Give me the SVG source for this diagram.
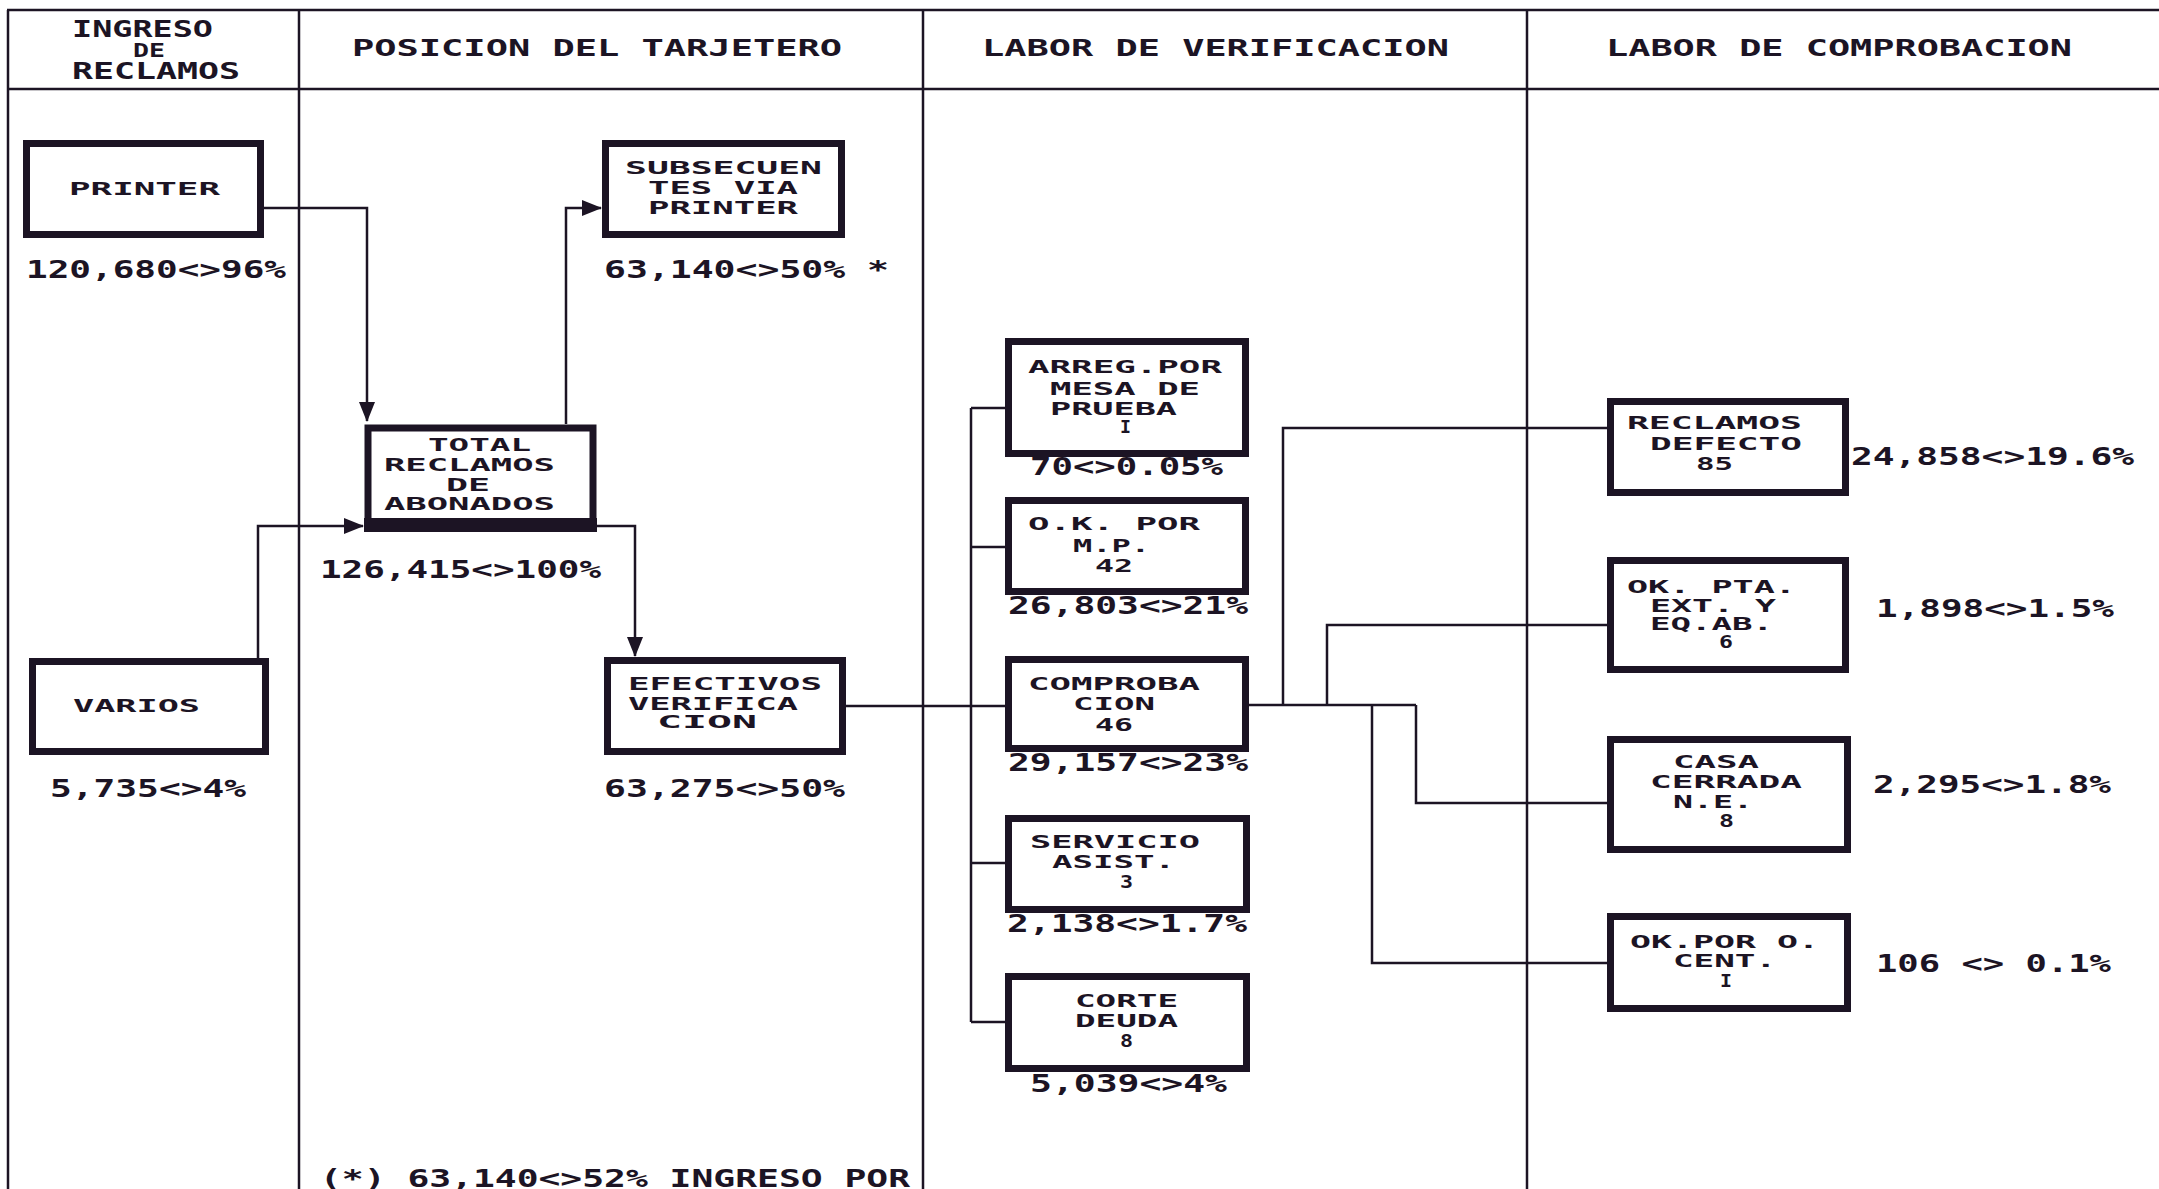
<svg xmlns="http://www.w3.org/2000/svg" width="2159" height="1189" viewBox="0 0 2159 1189">
<style>
.g{stroke:#1c1424;stroke-width:2.5;fill:none}
.c{stroke:#1c1424;stroke-width:2.5;fill:none}
.b{fill:#fff;stroke:#1c1424;stroke-width:7}
text{font-family:"DejaVu Sans Mono","Liberation Mono",monospace;font-weight:bold;fill:#1c1424}
.h{font-size:23px}
.t{font-size:18px}
.l{font-size:24px}
</style>
<defs>
<marker id="ah" markerUnits="userSpaceOnUse" markerWidth="20" markerHeight="16" refX="19" refY="8" orient="auto">
<path d="M0,0 L20,8 L0,16 Z" fill="#1c1424"/>
</marker>
</defs>
<rect width="2159" height="1189" fill="#fff"/>
<g id="grid">
<line class="g" x1="7" y1="10" x2="2159" y2="10"/>
<line class="g" x1="7" y1="89" x2="2159" y2="89"/>
<line class="g" x1="8" y1="10" x2="8" y2="1189"/>
<line class="g" x1="299" y1="10" x2="299" y2="1189"/>
<line class="g" x1="923" y1="10" x2="923" y2="1189"/>
<line class="g" x1="1527" y1="10" x2="1527" y2="1189"/>
</g>
<g id="headers">
<text class="h" x="72" y="37" textLength="141" lengthAdjust="spacingAndGlyphs">INGRESO</text>
<text x="133" y="57" font-size="20" textLength="32" lengthAdjust="spacingAndGlyphs">DE</text>
<text class="h" x="72" y="79" textLength="168" lengthAdjust="spacingAndGlyphs">RECLAMOS</text>
<text class="h" x="352" y="56" textLength="490" lengthAdjust="spacingAndGlyphs">POSICION DEL TARJETERO</text>
<text class="h" x="982" y="56" textLength="467" lengthAdjust="spacingAndGlyphs">LABOR DE VERIFICACION</text>
<text class="h" x="1606" y="56" textLength="466" lengthAdjust="spacingAndGlyphs">LABOR DE COMPROBACION</text>
</g>
<g id="connectors">
<polyline class="c" points="264,208 367,208 367,421" marker-end="url(#ah)"/>
<polyline class="c" points="258,658 258,526 363,526" marker-end="url(#ah)"/>
<polyline class="c" points="566,424 566,208 601,208" marker-end="url(#ah)"/>
<polyline class="c" points="597,526 635,526 635,656" marker-end="url(#ah)"/>
<line class="c" x1="846" y1="706" x2="1005" y2="706"/>
<line class="c" x1="971" y1="408" x2="971" y2="1022"/>
<line class="c" x1="971" y1="408" x2="1005" y2="408"/>
<line class="c" x1="971" y1="547" x2="1005" y2="547"/>
<line class="c" x1="971" y1="863" x2="1005" y2="863"/>
<line class="c" x1="971" y1="1022" x2="1005" y2="1022"/>
<line class="c" x1="1249" y1="705" x2="1416" y2="705"/>
<polyline class="c" points="1283,705 1283,428 1607,428"/>
<polyline class="c" points="1327,705 1327,625 1607,625"/>
<polyline class="c" points="1372,705 1372,963 1607,963"/>
<polyline class="c" points="1416,705 1416,803 1607,803"/>
</g>
<g id="n-printer">
<rect class="b" x="26.5" y="143.5" width="234" height="91"/>
<text class="t" x="69" y="195" textLength="151" lengthAdjust="spacingAndGlyphs">PRINTER</text>
<text class="l" x="26" y="278" textLength="260" lengthAdjust="spacingAndGlyphs">120,680&lt;&gt;96%</text>
</g>
<g id="n-subsecuentes">
<rect class="b" x="605.5" y="143.5" width="236" height="91"/>
<text class="t" x="625" y="174" textLength="197" lengthAdjust="spacingAndGlyphs">SUBSECUEN</text>
<text class="t" x="648" y="194" textLength="150" lengthAdjust="spacingAndGlyphs">TES VIA</text>
<text class="t" x="648" y="214" textLength="150" lengthAdjust="spacingAndGlyphs">PRINTER</text>
<text class="l" x="604" y="278" textLength="285" lengthAdjust="spacingAndGlyphs">63,140&lt;&gt;50% *</text>
</g>
<g id="n-total">
<rect class="b" x="368" y="428" width="225" height="100" stroke-width="8"/>
<rect x="364" y="518" width="233" height="14" fill="#1c1424"/>
<text class="t" x="428" y="451" textLength="103" lengthAdjust="spacingAndGlyphs">TOTAL</text>
<text class="t" x="384" y="471" textLength="171" lengthAdjust="spacingAndGlyphs">RECLAMOS</text>
<text class="t" x="446" y="491" textLength="44" lengthAdjust="spacingAndGlyphs">DE</text>
<text class="t" x="384" y="510" textLength="171" lengthAdjust="spacingAndGlyphs">ABONADOS</text>
<text class="l" x="320" y="578" textLength="281" lengthAdjust="spacingAndGlyphs">126,415&lt;&gt;100%</text>
</g>
<g id="n-varios">
<rect class="b" x="32.5" y="661.5" width="233" height="90"/>
<text class="t" x="73" y="712" textLength="127" lengthAdjust="spacingAndGlyphs">VARIOS</text>
<text class="l" x="50" y="797" textLength="196" lengthAdjust="spacingAndGlyphs">5,735&lt;&gt;4%</text>
</g>
<g id="n-efectivos">
<rect class="b" x="607.5" y="660.5" width="235" height="91"/>
<text class="t" x="628" y="690" textLength="194" lengthAdjust="spacingAndGlyphs">EFECTIVOS</text>
<text class="t" x="628" y="710" textLength="170" lengthAdjust="spacingAndGlyphs">VERIFICA</text>
<text class="t" x="657" y="728" textLength="100" lengthAdjust="spacingAndGlyphs">CION</text>
<text class="l" x="604" y="797" textLength="241" lengthAdjust="spacingAndGlyphs">63,275&lt;&gt;50%</text>
</g>
<g id="n-arreg">
<rect class="b" x="1008.5" y="341.5" width="237" height="112"/>
<text class="t" x="1028" y="373" textLength="194" lengthAdjust="spacingAndGlyphs">ARREG.POR</text>
<text class="t" x="1050" y="395" textLength="150" lengthAdjust="spacingAndGlyphs">MESA DE</text>
<text class="t" x="1050" y="415" textLength="127" lengthAdjust="spacingAndGlyphs">PRUEBA</text>
<text class="t" x="1120" y="433" textLength="11" lengthAdjust="spacingAndGlyphs">I</text>
<text class="l" x="1030" y="475" textLength="193" lengthAdjust="spacingAndGlyphs">70&lt;&gt;0.05%</text>
</g>
<g id="n-okmp">
<rect class="b" x="1008.5" y="500.5" width="237" height="91"/>
<text class="t" x="1028" y="530" textLength="172" lengthAdjust="spacingAndGlyphs">O.K.  POR</text>
<text class="t" x="1073" y="552" textLength="77" lengthAdjust="spacingAndGlyphs">M.P.</text>
<text class="t" x="1095" y="572" textLength="38" lengthAdjust="spacingAndGlyphs">42</text>
<text class="l" x="1008" y="614" textLength="240" lengthAdjust="spacingAndGlyphs">26,803&lt;&gt;21%</text>
</g>
<g id="n-comproba">
<rect class="b" x="1008.5" y="659.5" width="237" height="89"/>
<text class="t" x="1028" y="690" textLength="172" lengthAdjust="spacingAndGlyphs">COMPROBA</text>
<text class="t" x="1073" y="710" textLength="82" lengthAdjust="spacingAndGlyphs">CION</text>
<text class="t" x="1095" y="731" textLength="38" lengthAdjust="spacingAndGlyphs">46</text>
<text class="l" x="1008" y="771" textLength="240" lengthAdjust="spacingAndGlyphs">29,157&lt;&gt;23%</text>
</g>
<g id="n-servicio">
<rect class="b" x="1008.5" y="818.5" width="238" height="91"/>
<text class="t" x="1030" y="848" textLength="170" lengthAdjust="spacingAndGlyphs">SERVICIO</text>
<text class="t" x="1052" y="868" textLength="123" lengthAdjust="spacingAndGlyphs">ASIST.</text>
<text class="t" x="1120" y="888" textLength="13" lengthAdjust="spacingAndGlyphs">3</text>
<text class="l" x="1007" y="932" textLength="240" lengthAdjust="spacingAndGlyphs">2,138&lt;&gt;1.7%</text>
</g>
<g id="n-corte">
<rect class="b" x="1008.5" y="976.5" width="238" height="92"/>
<text class="t" x="1075" y="1007" textLength="103" lengthAdjust="spacingAndGlyphs">CORTE</text>
<text class="t" x="1075" y="1027" textLength="103" lengthAdjust="spacingAndGlyphs">DEUDA</text>
<text class="t" x="1120" y="1047" textLength="13" lengthAdjust="spacingAndGlyphs">8</text>
<text class="l" x="1030" y="1092" textLength="197" lengthAdjust="spacingAndGlyphs">5,039&lt;&gt;4%</text>
</g>
<g id="n-reclamos-defecto">
<rect class="b" x="1610.5" y="401.5" width="235" height="91"/>
<text class="t" x="1627" y="429" textLength="175" lengthAdjust="spacingAndGlyphs">RECLAMOS</text>
<text class="t" x="1650" y="450" textLength="152" lengthAdjust="spacingAndGlyphs">DEFECTO</text>
<text class="t" x="1696" y="470" textLength="37" lengthAdjust="spacingAndGlyphs">85</text>
<text class="l" x="1851" y="465" textLength="283" lengthAdjust="spacingAndGlyphs">24,858&lt;&gt;19.6%</text>
</g>
<g id="n-ok-pta">
<rect class="b" x="1610.5" y="560.5" width="235" height="109"/>
<text class="t" x="1627" y="593" textLength="169" lengthAdjust="spacingAndGlyphs">OK. PTA.</text>
<text class="t" x="1650" y="612" textLength="126" lengthAdjust="spacingAndGlyphs">EXT. Y</text>
<text class="t" x="1650" y="630" textLength="123" lengthAdjust="spacingAndGlyphs">EQ.AB.</text>
<text class="t" x="1719" y="648" textLength="14" lengthAdjust="spacingAndGlyphs">6</text>
<text class="l" x="1876" y="617" textLength="238" lengthAdjust="spacingAndGlyphs">1,898&lt;&gt;1.5%</text>
</g>
<g id="n-casa">
<rect class="b" x="1610.5" y="739.5" width="237" height="110"/>
<text class="t" x="1673" y="768" textLength="86" lengthAdjust="spacingAndGlyphs">CASA</text>
<text class="t" x="1650" y="788" textLength="152" lengthAdjust="spacingAndGlyphs">CERRADA</text>
<text class="t" x="1673" y="808" textLength="80" lengthAdjust="spacingAndGlyphs">N.E.</text>
<text class="t" x="1719" y="827" textLength="15" lengthAdjust="spacingAndGlyphs">8</text>
<text class="l" x="1873" y="793" textLength="238" lengthAdjust="spacingAndGlyphs">2,295&lt;&gt;1.8%</text>
</g>
<g id="n-ok-cent">
<rect class="b" x="1610.5" y="916.5" width="237" height="92"/>
<text class="t" x="1630" y="948" textLength="189" lengthAdjust="spacingAndGlyphs">OK.POR O.</text>
<text class="t" x="1673" y="967" textLength="103" lengthAdjust="spacingAndGlyphs">CENT.</text>
<text class="t" x="1720" y="987" textLength="12" lengthAdjust="spacingAndGlyphs">I</text>
<text class="l" x="1876" y="972" textLength="235" lengthAdjust="spacingAndGlyphs">106 &lt;&gt; 0.1%</text>
</g>
<g id="footnote">
<text class="l" x="320" y="1187" textLength="590" lengthAdjust="spacingAndGlyphs">(*) 63,140&lt;&gt;52% INGRESO POR</text>
</g>
</svg>
